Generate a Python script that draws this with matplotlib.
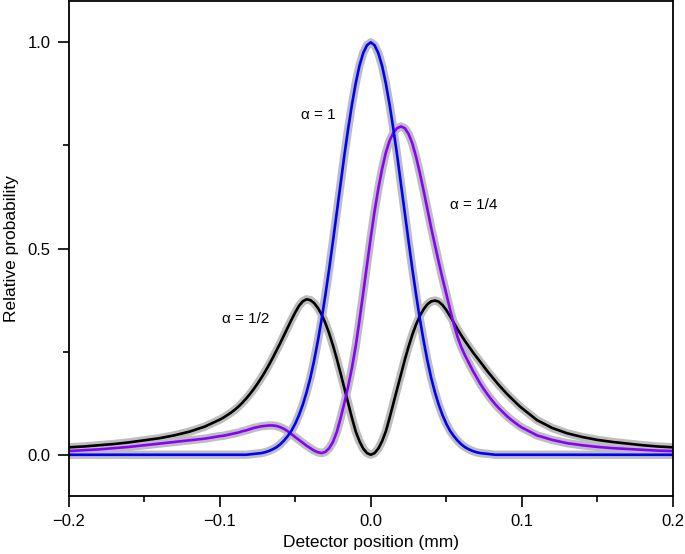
import numpy as np
import matplotlib
matplotlib.use("Agg")
import matplotlib.pyplot as plt

plt.rcParams['font.family'] = ['Liberation Sans', 'DejaVu Sans']

# Detector position grid (mm): coarse in tails, fine in the centre
x_left = [round(-0.2 + 0.01 * i, 4) for i in range(10)]
x_mid = [round(-0.1 + 0.0025 * i, 4) for i in range(81)]
x_right = [round(0.11 + 0.01 * i, 4) for i in range(10)]
x_pos = x_left + x_mid + x_right

# alpha = 1 (blue): centre half, x = 0 ... 0.1 (symmetric curve), zero in the tails
blue_half = [1.000, 0.993, 0.974, 0.943, 0.900, 0.848, 0.789, 0.725, 0.656, 0.587,
             0.518, 0.451, 0.388, 0.329, 0.276, 0.228, 0.186, 0.151, 0.121, 0.096,
             0.075, 0.058, 0.045, 0.034, 0.025, 0.018, 0.013, 0.009, 0.006, 0.004,
             0.003, 0.002, 0.001, 0.0, 0.0, 0.0, 0.0, 0.0, 0.0, 0.0, 0.0]
blue = [0.0] * 10 + blue_half[::-1] + blue_half[1:] + [0.0] * 10

# alpha = 1/2 (black)
black_left_tail = [0.018, 0.020, 0.023, 0.026, 0.030, 0.035, 0.040, 0.047, 0.056, 0.068]
black_mid = [0.085, 0.090, 0.096, 0.102, 0.109, 0.117, 0.126, 0.136, 0.147, 0.159,
             0.172, 0.186, 0.201, 0.217, 0.234, 0.252, 0.270, 0.289, 0.308, 0.327,
             0.345, 0.361, 0.372, 0.377, 0.375, 0.368, 0.356, 0.340, 0.319, 0.294,
             0.265, 0.233, 0.198, 0.162, 0.126, 0.090, 0.057, 0.033, 0.015, 0.004,
             0.000,
             0.004, 0.015, 0.033, 0.057, 0.090, 0.125, 0.160, 0.195, 0.230, 0.262,
             0.291, 0.316, 0.337, 0.353, 0.365, 0.372, 0.374, 0.371, 0.363, 0.351,
             0.336, 0.320, 0.304, 0.289, 0.275, 0.262, 0.249, 0.237, 0.225, 0.213,
             0.201, 0.190, 0.179, 0.168, 0.158, 0.148, 0.139, 0.130, 0.121, 0.113]
black_right_tail = [0.084, 0.065, 0.052, 0.043, 0.036, 0.031, 0.027, 0.023, 0.020, 0.018]
black = black_left_tail + black_mid + black_right_tail

# alpha = 1/4 (purple)
purple_left_tail = [0.009, 0.011, 0.013, 0.016, 0.019, 0.023, 0.027, 0.031, 0.035, 0.039]
purple_mid = [0.045, 0.046, 0.048, 0.050, 0.052, 0.054, 0.057, 0.059, 0.062, 0.065,
              0.067, 0.069, 0.070, 0.071, 0.071, 0.070, 0.067, 0.063, 0.057, 0.050,
              0.043, 0.036, 0.029, 0.022, 0.016, 0.010, 0.006, 0.004, 0.007, 0.016,
              0.031, 0.055, 0.088, 0.125, 0.165, 0.210, 0.262, 0.325, 0.392, 0.460,
              0.527,
              0.590, 0.645, 0.693, 0.733, 0.762, 0.781, 0.792, 0.796, 0.792, 0.778,
              0.755, 0.722, 0.683, 0.640, 0.595, 0.550, 0.508, 0.467, 0.427, 0.390,
              0.352, 0.316, 0.285, 0.260, 0.240, 0.222, 0.204, 0.188, 0.172, 0.158,
              0.145, 0.133, 0.122, 0.112, 0.103, 0.094, 0.086, 0.079, 0.072, 0.066]
purple_right_tail = [0.047, 0.036, 0.028, 0.023, 0.019, 0.016, 0.014, 0.012, 0.010, 0.009]
purple = purple_left_tail + purple_mid + purple_right_tail

labels = ["\u03b1 = 1", "\u03b1 = 1/4", "\u03b1 = 1/2"]

fig = plt.figure(figsize=(6.85, 5.54), dpi=100)
ax = fig.add_axes([0.1, 0.1047, 0.8825, 0.8933])

gray = '#bdbdbd'
series = [(black, 'black'), (purple, '#8a00ff'), (blue, '#0000ff')]
for y, c in series:
    ax.plot(x_pos, y, color=gray, lw=6, solid_capstyle='round', solid_joinstyle='round', zorder=1)
for y, c in series:
    ax.plot(x_pos, y, color=c, lw=1.9, solid_capstyle='round', solid_joinstyle='round', zorder=2)

ax.set_xlim(-0.2, 0.2)
ax.set_ylim(-0.1, 1.1)
ax.set_xticks([-0.2, -0.1, 0.0, 0.1, 0.2])
ax.set_xticklabels(['\u22120.2', '\u22120.1', '0.0', '0.1', '0.2'])
ax.set_xticks([-0.15, -0.05, 0.05, 0.15], minor=True)
ax.set_yticks([0.0, 0.5, 1.0])
ax.set_yticklabels(['0.0', '0.5', '1.0'])
ax.set_yticks([0.25, 0.75], minor=True)
ax.tick_params(which='major', length=8, width=1.2, labelsize=12, direction='out', pad=5)
ax.tick_params(which='minor', length=4, width=1.2, direction='out')
for s in ax.spines.values():
    s.set_linewidth(1.3)

ax.set_xlabel('Detector position (mm)', fontsize=12.5, labelpad=4)
ax.set_ylabel('Relative probability', fontsize=12.5, labelpad=6)

ax.text(-0.035, 0.825, labels[0], fontsize=11, ha='center', va='center')
ax.text(0.068, 0.605, labels[1], fontsize=11, ha='center', va='center')
ax.text(-0.0825, 0.33, labels[2], fontsize=11, ha='center', va='center')

fig.savefig('out.png', dpi=100)
